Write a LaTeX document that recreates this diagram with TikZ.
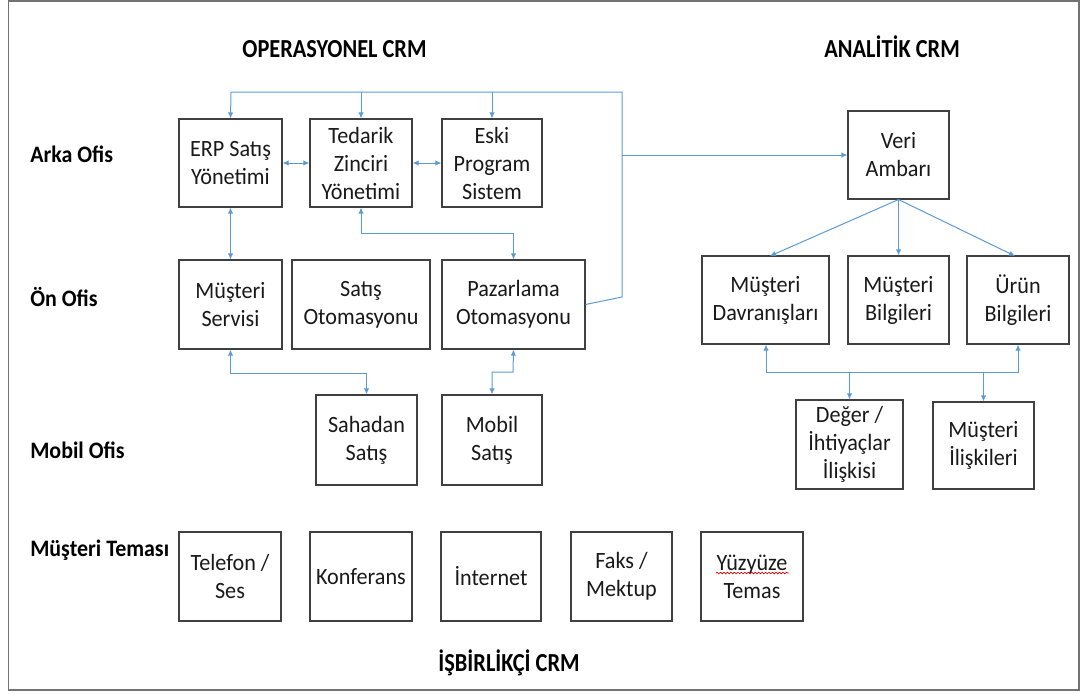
\documentclass[tikz,border=0pt]{standalone}
\usepackage{fontspec}
\setmainfont{Carlito}
\newfontfamily\boxfont[FakeStretch=0.95]{Carlito}
\newfontfamily\labfont[FakeStretch=0.93]{Carlito}
\newfontfamily\titfont[FakeStretch=0.86]{Carlito}
\usetikzlibrary{arrows.meta,decorations.pathmorphing}
\definecolor{conn}{RGB}{91,155,213}
\definecolor{boxline}{RGB}{64,64,64}
\tikzset{
  box/.style={draw=boxline, line width=0.8pt, inner sep=0pt, align=center,
    text=black!90, font=\boxfont\fontsize{17.5}{21}\selectfont},
  cn/.style={draw=conn, line width=0.75pt},
  tip/.style={-{Latex[length=4.5pt,width=4pt]}},
  dtip/.style={{Latex[length=4.5pt,width=4pt]}-{Latex[length=4.5pt,width=4pt]}},
  rowlabel/.style={anchor=base west, inner sep=0pt, font=\labfont\bfseries\fontsize{17.7}{21}\selectfont},
  title/.style={anchor=base, inner sep=0pt, font=\titfont\bfseries\fontsize{19.5}{23}\selectfont},
}
% \bx{name}{x1}{y1}{x2}{y2}{text}
\newcommand\bx[6]{\node[box, minimum width={(#4-#2)*0.75pt}, minimum height={(#5-#3)*0.75pt}]
  (#1) at ({(#2+#4)/2},{(#3+#5)/2}) {#6};}
\begin{document}
\begin{tikzpicture}[x=0.75pt,y=-0.75pt]
\useasboundingbox (0,0) rectangle (1084,693);
\draw[draw=black!55, line width=1.3pt] (8.5,0.8) rectangle (1079,690);

% titles
\node[title] (t1) at (334.5,57) {OPERASYONEL CRM};
\node[title] (t2) at (892,57) {ANALİTİK CRM};
\node[title] (t3) at (509,671) {İŞBİRLİKÇİ CRM};

% row labels
\node[rowlabel] (l1) at (30,162) {Arka Ofis};
\node[rowlabel] (l2) at (30,306) {Ön Ofis};
\node[rowlabel] (l3) at (30,458) {Mobil Ofis};
\node[rowlabel] (l4) at (30,556) {Müşteri Teması};

% back office
\bx{erp}{179}{119}{282}{207}{ERP Satış\\Yönetimi}
\bx{tz}{310}{119}{412}{207}{Tedarik\\Zinciri\\Yönetimi}
\bx{ek}{442}{119}{542}{207}{Eski\\Program\\Sistem}

% front office
\bx{ms}{179}{260}{282}{349}{Müşteri\\Servisi}
\bx{so}{292}{260}{430}{349}{Satış\\Otomasyonu}
\bx{pz}{442}{260}{585}{349}{Pazarlama\\Otomasyonu}

% mobile office
\bx{sh}{316}{395}{417}{485}{Sahadan\\Satış}
\bx{mb}{442}{395}{542}{485}{Mobil\\Satış}

% customer contact
\bx{tel}{179}{532}{281}{621}{Telefon /\\Ses}
\bx{kon}{310}{532}{412}{621}{Konferans}
\bx{int}{441}{532}{541}{621}{İnternet}
\bx{fak}{571}{532}{672}{621}{Faks /\\Mektup}
\bx{yuz}{701}{532}{803}{621}{Yüzyüze\\Temas}
\draw[red!85!black, line width=0.5pt, decorate,
  decoration={snake, amplitude=0.6pt, segment length=2.6pt}]
  (716,573) -- (789,573);

% analytic
\bx{veri}{848}{111}{949}{199}{Veri\\Ambarı}
\bx{md}{702}{256}{829}{344}{Müşteri\\Davranışları}
\bx{mbg}{848}{256}{949}{344}{Müşteri\\Bilgileri}
\bx{ub}{967}{256}{1069}{344}{Ürün\\Bilgileri}
\bx{dg}{796}{400}{903}{489}{Değer /\\İhtiyaçlar\\İlişkisi}
\bx{mi}{933}{402}{1034}{489}{Müşteri\\İlişkileri}

% connectors: top bus
\coordinate (b1) at (622,297);
\coordinate (b2) at (622,92);
\coordinate (b3) at (231,92);
\draw[cn] (pz.east) -- (b1) -- (b2) -- (b3);
\draw[cn,tip] (b3) -- (erp.north);
\draw[cn,tip] (tz.north |- b2) -- (tz.north);
\draw[cn,tip] (ek.north |- b2) -- (ek.north);
\draw[cn,tip] (b2 |- veri.west) -- (veri.west);

% operational links
\draw[cn,dtip] (erp.east) -- (tz.west);
\draw[cn,dtip] (tz.east) -- (ek.west);
\draw[cn,dtip] (erp.south) -- (ms.north);
\draw[cn,dtip] (tz.south) -- ++(0,26) -| (pz.north);
\draw[cn,dtip] (ms.south) -- ++(0,24) -| (sh.north);
\coordinate (m1) at (513,372);
\coordinate (m2) at (492,372);
\draw[cn,dtip] (pz.south) -- (m1) -- (m2) -- (mb.north);

% analytic links
\coordinate (v1) at (770,256);
\coordinate (v2) at (1015,256);
\draw[cn,tip] (veri.south) -- (v1);
\draw[cn,tip] (veri.south) -- (mbg.north);
\draw[cn,tip] (veri.south) -- (v2);
\coordinate (a1) at (766,372);
\coordinate (a2) at (1018,372);
\draw[cn,dtip] (a1 |- md.south) -- (a1) -- (a2) -- (a2 |- ub.south);
\draw[cn,tip] (dg.north |- a1) -- (dg.north);
\draw[cn,tip] (mi.north |- a1) -- (mi.north);
\end{tikzpicture}
\end{document}
